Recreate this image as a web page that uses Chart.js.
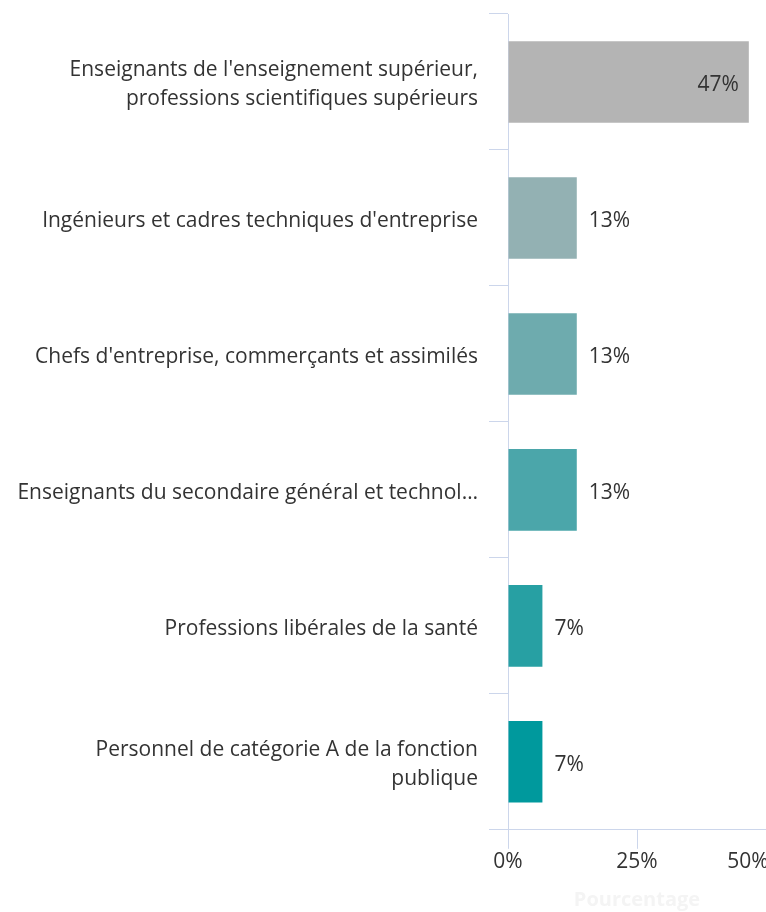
<!DOCTYPE html>
<html>
<head>
<meta charset="utf-8">
<script src="https://cdn.jsdelivr.net/npm/chart.js@4"></script>
<style>
  html, body { margin: 0; padding: 0; background: #fff; overflow: hidden; }
  #wrap { width: 800px; height: 912px; }
</style>
</head>
<body>
<div id="wrap"><canvas id="chart"></canvas></div>
<script>
// Categories as shown on the axis (long ones wrapped / cut the same way)
const categories = [
    ["Enseignants de l'enseignement supérieur,", "professions scientifiques supérieurs"],
    "Ingénieurs et cadres techniques d'entreprise",
    "Chefs d'entreprise, commerçants et assimilés",
    "Enseignants du secondaire général et technol…",
    "Professions libérales de la santé",
    ["Personnel de catégorie A de la fonction", "publique"]
];
const shares = [46.67, 13.33, 13.33, 13.33, 6.67, 6.67];
const barColors = ["#b4b4b4", "#93b1b3", "#6eabae", "#4ba6aa", "#27a0a3", "#00999d"];
const xTicks = [0, 25, 50];

const axisColor = "#ccd6eb";
const textColor = "#333333";
const fontFamily = "'Open Sans', 'Noto Sans', sans-serif";

// Small plugin to print the percentage next to / inside each bar
const valueLabels = {
    id: "valueLabels",
    afterDatasetsDraw(chart) {
        const ctx = chart.ctx;
        const meta = chart.getDatasetMeta(0);
        ctx.save();
        ctx.font = "21px " + fontFamily;
        ctx.fillStyle = textColor;
        ctx.textBaseline = "middle";
        meta.data.forEach((bar, i) => {
            const text = Math.round(shares[i]) + "%";
            if (shares[i] > 30) {
                ctx.textAlign = "right";
                ctx.fillText(text, bar.x - 10, bar.y + 3);
            } else {
                ctx.textAlign = "left";
                ctx.fillText(text, bar.x + 12, bar.y + 3);
            }
        });
        ctx.restore();
    }
};

new Chart(document.getElementById("chart"), {
    type: "bar",
    data: {
        labels: categories,
        datasets: [{
            data: shares,
            backgroundColor: barColors,
            borderWidth: 0,
            barPercentage: 0.6,
            categoryPercentage: 1
        }]
    },
    options: {
        indexAxis: "y",
        responsive: true,
        maintainAspectRatio: false,
        animation: false,
        layout: {
            autoPadding: false,
            padding: { top: 14, right: 34, left: 0, bottom: 0 }
        },
        plugins: {
            legend: { display: false },
            tooltip: { enabled: false }
        },
        scales: {
            x: {
                min: 0,
                max: 50,
                afterBuildTicks: (scale) => {
                    scale.ticks = xTicks.map(v => ({ value: v }));
                },
                afterFit: (scale) => {
                    scale.paddingLeft = 0;
                    scale.paddingRight = 0;
                },
                grid: {
                    drawOnChartArea: false,
                    drawTicks: true,
                    tickLength: 19,
                    color: axisColor
                },
                border: { color: axisColor, width: 1 },
                ticks: {
                    color: textColor,
                    padding: 1,
                    maxRotation: 0,
                    font: { family: fontFamily, size: 21 },
                    // last label is pushed inside the plot, like the original
                    callback: (v) => v === 50 ? v + "%\u2007\u2007\u2007" : v + "%"
                },
                title: {
                    display: true,
                    text: "Pourcentage",
                    color: "#f4f4f4",
                    font: { family: fontFamily, size: 20, weight: "bold" },
                    padding: { top: 12, bottom: 0 }
                }
            },
            y: {
                afterFit: (scale) => {
                    scale.width = 508;
                    scale.paddingTop = 0;
                    scale.paddingBottom = 0;
                },
                grid: {
                    offset: true,
                    drawOnChartArea: false,
                    drawTicks: true,
                    tickLength: 19,
                    color: axisColor
                },
                border: { color: axisColor, width: 1 },
                ticks: {
                    color: textColor,
                    padding: 11,
                    labelOffset: 3,
                    font: { family: fontFamily, size: 21, lineHeight: 1.38 }
                }
            }
        }
    },
    plugins: [valueLabels]
});
</script>
</body>
</html>
